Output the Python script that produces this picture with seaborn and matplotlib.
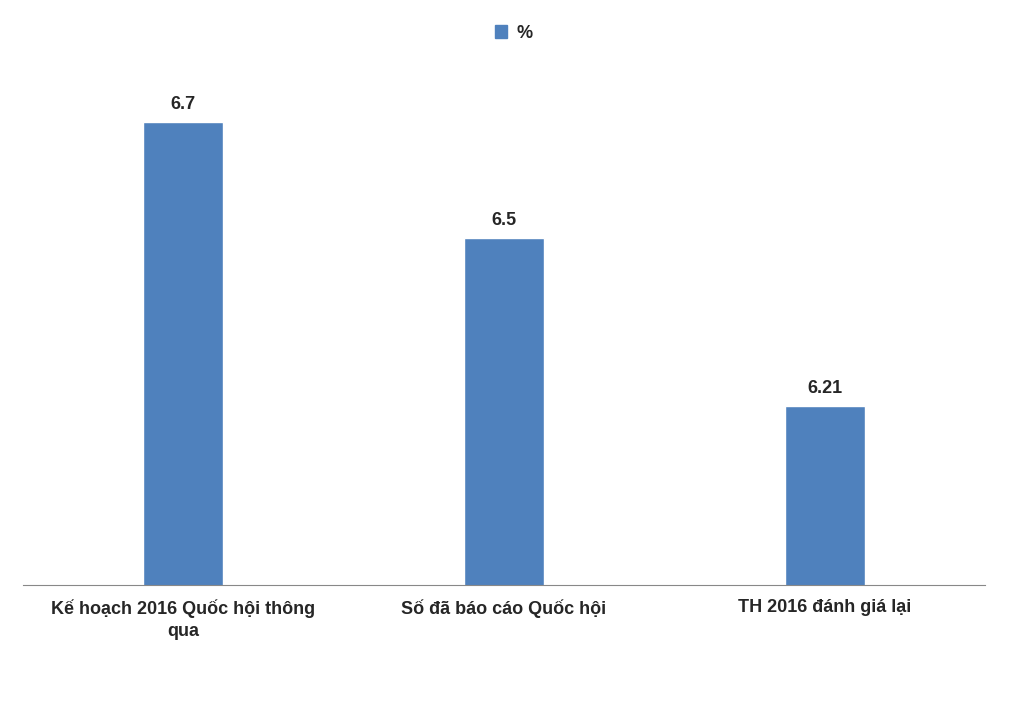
import matplotlib
matplotlib.use("Agg")
import matplotlib.pyplot as plt
import seaborn as sns
from matplotlib.patches import Patch

categories = ["Kế hoạch 2016 Quốc hội thông\nqua", "Số đã báo cáo Quốc hội", "TH 2016 đánh giá lại"]
values = [6.7, 6.5, 6.21]
value_labels = ["6.7", "6.5", "6.21"]
series_name = "%"

sns.set_style("white")
plt.rcParams["font.family"] = ["Liberation Sans", "DejaVu Sans"]
plt.rcParams["font.weight"] = "bold"

fig = plt.figure(figsize=(10.17, 7.15), dpi=100)
ax = fig.add_axes([0.0226, 0.1818, 0.9459, 0.7287])

color = "#4F81BD"
sns.barplot(x=categories, y=values, color=color, width=0.25, saturation=1, ax=ax)

ax.set_ylim(5.9, 6.8)
ax.set_xlim(-0.5, 2.5)
for i, (v, lab) in enumerate(zip(values, value_labels)):
    ax.text(i, v + 0.015, lab, ha="center", va="bottom", fontsize=13, fontweight="bold")

ax.set_yticks([])
for s in ["left", "right", "top"]:
    ax.spines[s].set_visible(False)
ax.spines["bottom"].set_color("#888888")
ax.tick_params(axis="x", length=0, labelsize=13, pad=10)
for t in ax.get_xticklabels():
    t.set_fontweight("bold")
    t.set_linespacing(1.4)

fig.legend(handles=[Patch(color=color, label=series_name)], loc="center",
           bbox_to_anchor=(0.505, 0.953), frameon=False, fontsize=13,
           handlelength=0.7, handleheight=0.7, handletextpad=0.5)

fig.savefig("out.png", dpi=100)
